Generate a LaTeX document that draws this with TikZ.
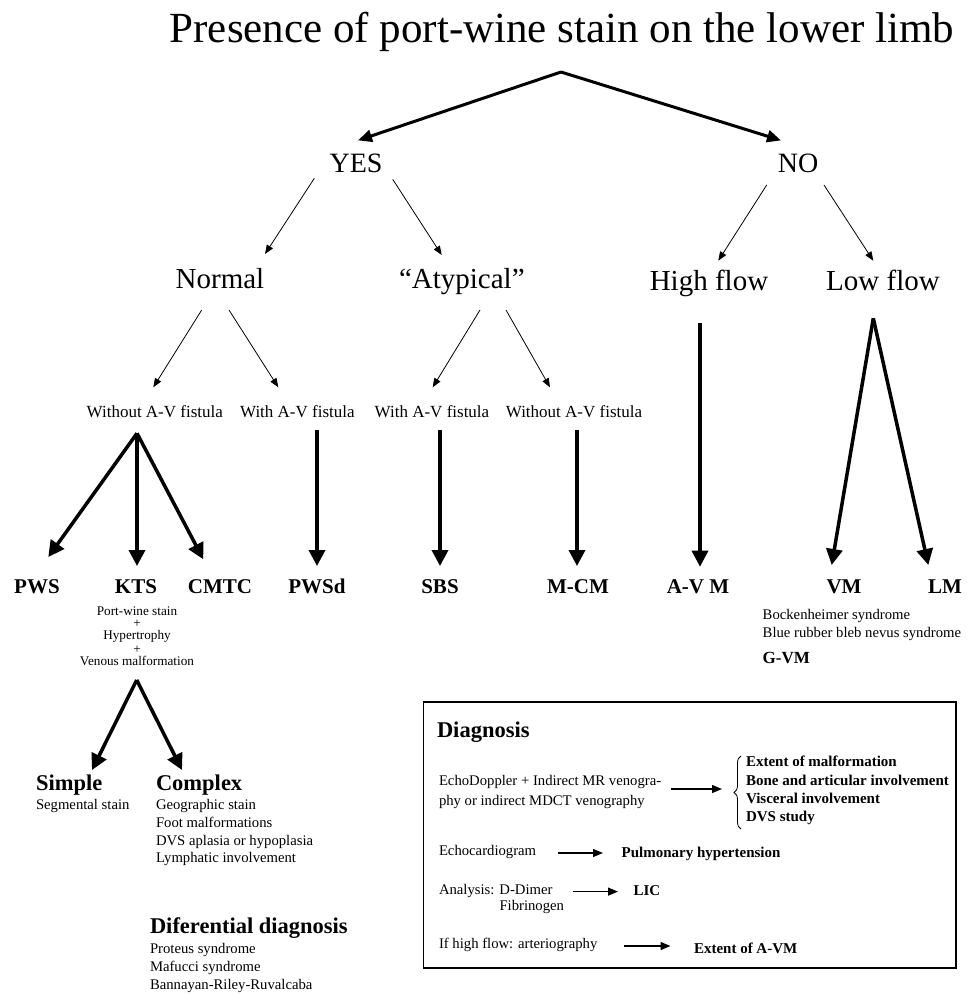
\documentclass[tikz,border=0pt]{standalone}
\usepackage{fontspec}
\setmainfont{Liberation Serif}
\usetikzlibrary{arrows.meta,decorations.pathreplacing}
\newcommand\fsz[1]{\fontsize{#1}{#1}\selectfont}
\begin{document}
\begin{tikzpicture}[x=1pt,y=-1pt,
  lbl/.style={inner sep=0pt,outer sep=0pt,anchor=base},
  lw/.style={inner sep=0pt,outer sep=0pt,anchor=base west},
  topar/.style={line width=3pt,-{Triangle[length=14pt,width=12pt]}},
  thinar/.style={line width=0.8pt,-{Triangle[length=9pt,width=7pt]}},
  thickar/.style={line width=3.5pt,-{Triangle[length=16pt,width=16pt]}},
  boxar/.style={line width=1.3pt,-{Triangle[length=10pt,width=8pt]}},
  bigt/.style={font=\fsz{29}},
  midt/.style={font=\fsz{17}},
  boldt/.style={font=\fsz{21}\bfseries},
  smt/.style={font=\fsz{14.7}},
  kt/.style={font=\fsz{13.2}},
  smb/.style={font=\fsz{15}\bfseries},
  headb/.style={font=\fsz{22.5}\bfseries}]
\useasboundingbox (0,0) rectangle (967,994);

% title and first level
\node[lbl,font=\fsz{43}] (title) at (562,42) {Presence of port-wine stain on the lower limb};
\coordinate (apex) at (561,72);
\node[lbl,font=\fsz{28}] (yes) at (356,172.7) {YES};
\node[lbl,font=\fsz{28}] (no) at (798,172.7) {NO};
\coordinate (yesT) at (358,140.4);
\coordinate (noT) at (781,140.4);
\draw[topar] (apex) -- (yesT);
\draw[topar] (apex) -- (noT);

% second level
\node[lbl,bigt] (normal) at (220,288) {Normal};
\node[lw,bigt] (atyp) at (399,288) {“Atypical”};
\node[lbl,bigt] (high) at (709,290.5) {High flow};
\node[lbl,bigt] (low) at (883,290.5) {Low flow};
\coordinate (yesA) at (314.3,178.3); \coordinate (normalT) at (265,254);
\coordinate (yesB) at (392.7,179.3); \coordinate (atypT) at (441.7,255);
\coordinate (noA) at (766.7,185); \coordinate (highT) at (718.3,260.7);
\coordinate (noB) at (824,185); \coordinate (lowT) at (873.3,260.7);
\draw[thinar] (yesA) -- (normalT);
\draw[thinar] (yesB) -- (atypT);
\draw[thinar] (noA) -- (highT);
\draw[thinar] (noB) -- (lowT);

% fistula level
\node[lbl,midt] (wo1) at (154.8,417) {Without A-V fistula};
\node[lbl,midt] (w1) at (297.4,417) {With A-V fistula};
\node[lbl,midt] (w2) at (432,417) {With A-V fistula};
\node[lbl,midt] (wo2) at (574,417) {Without A-V fistula};
\coordinate (normA) at (201.7,310); \coordinate (wo1T) at (153.3,387.3);
\coordinate (normB) at (229,310); \coordinate (w1T) at (278.3,387.3);
\coordinate (atypA) at (480,310); \coordinate (w2T) at (432.7,387.3);
\coordinate (atypB) at (506,310); \coordinate (wo2T) at (550,387.3);
\draw[thinar] (normA) -- (wo1T);
\draw[thinar] (normB) -- (w1T);
\draw[thinar] (atypA) -- (w2T);
\draw[thinar] (atypB) -- (wo2T);

% diagnoses
\node[lbl,boldt] (pws) at (37,593) {PWS};
\node[lbl,boldt] (kts) at (136,593) {KTS};
\node[lbl,boldt] (cmtc) at (220,593) {CMTC};
\node[lbl,boldt] (pwsd) at (317,593) {PWSd};
\node[lbl,boldt] (sbs) at (440,593) {SBS};
\node[lbl,boldt] (mcm) at (578,593) {M-CM};
\node[lbl,boldt] (avm) at (698,593) {A-V M};
\node[lbl,boldt] (vm) at (844,593) {VM};
\node[lbl,boldt] (lm) at (945,593) {LM};

\coordinate (woApex) at (137,433.3);
\coordinate (pwsT) at (48.3,557);
\coordinate (ktsT) at (137,566);
\coordinate (cmtcT) at (203.3,559.3);
\draw[thickar] (woApex) -- (pwsT);
\draw[thickar] (woApex) -- (ktsT);
\draw[thickar] (woApex) -- (cmtcT);
\coordinate (w1S) at (317,430); \coordinate (pwsdT) at (317,566);
\coordinate (w2S) at (440,430); \coordinate (sbsT) at (440,566);
\coordinate (wo2S) at (577,430); \coordinate (mcmT) at (577,566);
\coordinate (highS) at (700,322.7); \coordinate (avmT) at (700,566.7);
\draw[thickar] (w1S) -- (pwsdT);
\draw[thickar] (w2S) -- (sbsT);
\draw[thickar] (wo2S) -- (mcmT);
\draw[thickar] (highS) -- (avmT);
\coordinate (lowApex) at (873.3,318.3);
\coordinate (vmT) at (831.7,565);
\coordinate (lmT) at (928.3,565);
\draw[thickar] (lowApex) -- (vmT);
\draw[thickar] (lowApex) -- (lmT);

% KTS detail
\node[lbl,kt] (k1) at (137,615) {Port-wine stain};
\node[lbl,kt] (k2) at (137,627.5) {+};
\node[lbl,kt] (k3) at (137,639.5) {Hypertrophy};
\node[lbl,kt] (k4) at (137,653.5) {+};
\node[lbl,kt] (k5) at (137,665.5) {Venous malformation};
\coordinate (kApex) at (136.7,680);
\coordinate (simpleT) at (92,770);
\coordinate (complexT) at (182,770);
\draw[thickar] (kApex) -- (simpleT);
\draw[thickar] (kApex) -- (complexT);

\node[lw,headb] (simple) at (36,790.7) {Simple};
\node[lw,smt] (s1) at (36,809.3) {Segmental stain};
\node[lw,headb] (complex) at (156,790.7) {Complex};
\node[lw,smt] (c1) at (156,809.3) {Geographic stain};
\node[lw,smt] (c2) at (156,827) {Foot malformations};
\node[lw,smt] (c3) at (156,845) {DVS aplasia or hypoplasia};
\node[lw,smt] (c4) at (156,862.7) {Lymphatic involvement};

\node[lw,headb] (dd) at (150,933.3) {Diferential diagnosis};
\node[lw,smt] (d1) at (150,953.3) {Proteus syndrome};
\node[lw,smt] (d2) at (150,971) {Mafucci syndrome};
\node[lw,smt] (d3) at (150,989) {Bannayan-Riley-Ruvalcaba};

% VM detail
\node[lw,smt] (v1) at (762.7,619) {Bockenheimer syndrome};
\node[lw,smt] (v2) at (762.7,637.5) {Blue rubber bleb nevus syndrome};
\node[lw,font=\fsz{17}\bfseries] (v3) at (762.7,663) {G-VM};

% diagnosis box
\draw[line width=1.5pt] (423.5,702) rectangle (956,968);
\node[lw,headb] (diag) at (437,737) {Diagnosis};
\node[lw,smt] (e1) at (439,785) {EchoDoppler + Indirect MR venogra-};
\node[lw,smt] (e2) at (439,805) {phy or indirect MDCT venography};
\coordinate (eS) at (670.5,789); \coordinate (eT) at (722,789);
\draw[boxar] (eS) -- (eT);
\draw[line width=0.8pt,decorate,decoration={brace,amplitude=7pt}] (741,829) -- (741,756);
\node[lw,smb] (r1) at (746,766) {Extent of malformation};
\node[lw,smb] (r2) at (746,785) {Bone and articular involvement};
\node[lw,smb] (r3) at (746,803) {Visceral involvement};
\node[lw,smb] (r4) at (746,821) {DVS study};

\node[lw,smt] (ec) at (439,855) {Echocardiogram};
\coordinate (ecS) at (558,853); \coordinate (ecT) at (603,853);
\draw[boxar] (ecS) -- (ecT);
\node[lw,smb] (ph) at (621.7,857) {Pulmonary hypertension};

\node[lw,smt] (an) at (439,894) {Analysis: D-Dimer};
\node[lw,smt] (fb) at (499.5,910) {Fibrinogen};
\coordinate (anS) at (572.5,891.6); \coordinate (anT) at (618,891.6);
\draw[boxar] (anS) -- (anT);
\node[lw,smb] (lic) at (633.5,895) {LIC};

\node[lw,smt] (hf) at (439,948) {If high flow: arteriography};
\coordinate (hfS) at (624,946); \coordinate (hfT) at (670.5,946);
\draw[boxar] (hfS) -- (hfT);
\node[lw,smb] (ea) at (694,953) {Extent of A-VM};
\end{tikzpicture}
\end{document}
